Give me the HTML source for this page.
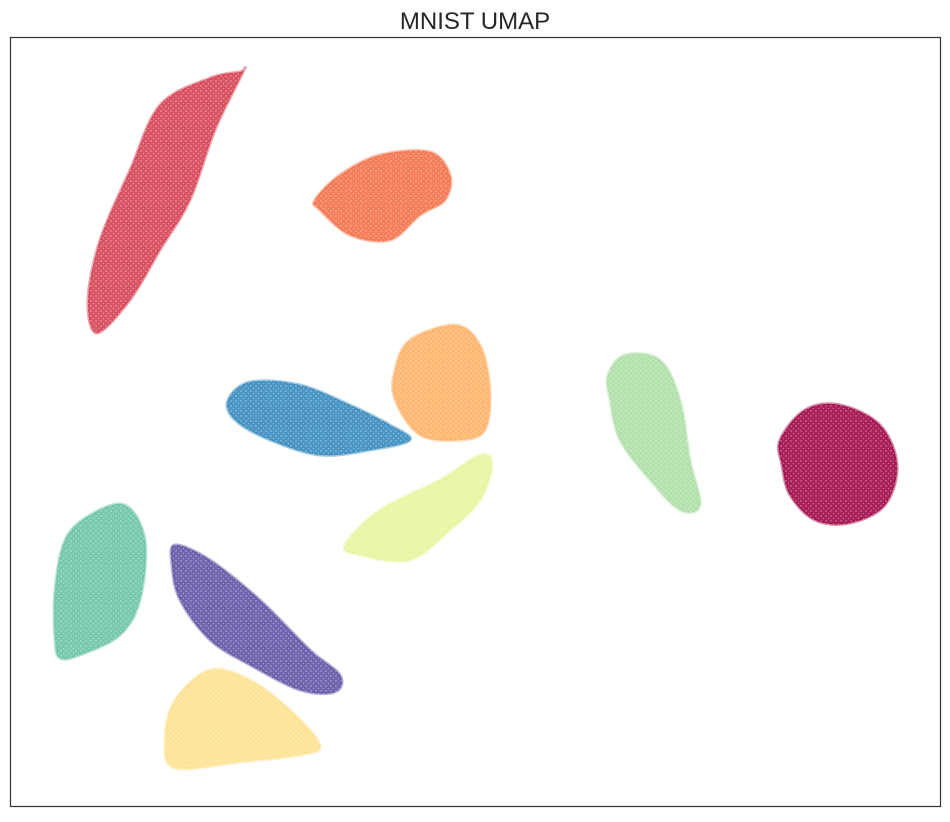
<!DOCTYPE html>
<html>
<head>
<meta charset="utf-8">
<style>
  html,body{margin:0;padding:0;background:#fff;}
  body{width:950px;height:817px;overflow:hidden;font-family:"Liberation Sans","DejaVu Sans",sans-serif;}
</style>
</head>
<body>
<svg id="chart" width="950" height="817" viewBox="0 0 950 817" xmlns="http://www.w3.org/2000/svg">
  <defs>
    <pattern id="speckle" width="5" height="5" patternUnits="userSpaceOnUse">
      <circle cx="1" cy="1" r="0.7" fill="#fff" opacity="0.5"/>
      <circle cx="3.5" cy="3.5" r="0.6" fill="#fff" opacity="0.4"/>
    </pattern>
  </defs>
  <text x="475" y="29" text-anchor="middle" font-size="24" fill="#262626" font-family="Liberation Sans, DejaVu Sans, sans-serif">MNIST UMAP</text>
  <g id="clusters"></g>
  <rect x="10.5" y="37.5" width="930" height="769" fill="none" stroke="#333" stroke-width="1.2"/>
</svg>
<script>
// Data coordinates: x in [0, 931], y in [0, 770] (y measured downward from the top of the embedding view)
const digitLabels = ['0','1','2','3','4','5','6','7','8','9'];
const clusterColors = ['#d53e4f','#f46d43','#fdae61','#3288bd','#e6f598','#abdda4','#9e0142','#66c2a5','#5e4fa2','#fee08b'];
const outline0 = [[230,35],[200,41],[150,68],[120,133],[90,203],[78,263],[87,296],[120,263],[150,213],[180,163],[205,93],[233,35]];
const outline1 = [[305,163],[330,138],[370,118],[420,115],[440,138],[435,163],[410,178],[380,203],[340,198],[310,173]];
const outline2 = [[385,333],[400,303],[445,288],[470,308],[480,353],[475,393],[450,403],[410,398],[385,363]];
const outline3 = [[218,363],[240,345],[290,348],[340,368],[380,388],[400,403],[360,413],[310,418],[260,403],[225,383]];
const outline4 = [[335,508],[370,473],[430,443],[470,418],[482,428],[470,463],[440,493],[400,523],[350,518]];
const outline5 = [[598,338],[615,318],[650,323],[670,363],[680,423],[690,468],[670,473],[640,443],[610,403],[600,363]];
const outline6 = [[770,403],[795,373],[830,368],[870,388],[887,428],[875,468],[840,486],[805,483],[780,458],[772,428]];
const outline7 = [[45,603],[45,553],[55,503],[80,478],[115,468],[135,503],[130,563],[110,598],[70,618],[50,621]];
const outline8 = [[165,508],[200,523],[250,563],[300,613],[330,638],[325,655],[290,653],[240,628],[200,603],[170,563],[162,528]];
const outline9 = [[155,703],[165,663],[200,633],[240,643],[280,673],[310,708],[290,718],[230,725],[165,731]];
const outlines = [outline0,outline1,outline2,outline3,outline4,outline5,outline6,outline7,outline8,outline9];

const plot = {x0:10, y0:37, w:931, h:770};
const xDomain = [0, 931], yDomain = [0, 770];
function sx(v){ return plot.x0 + (v - xDomain[0]) / (xDomain[1]-xDomain[0]) * plot.w; }
function sy(v){ return plot.y0 + (v - yDomain[0]) / (yDomain[1]-yDomain[0]) * plot.h; }

// closed Catmull-Rom smoothing
function smoothPath(pts){
  const P = pts.map(p=>[sx(p[0]), sy(p[1])]);
  const n = P.length;
  let d = 'M' + P[0][0].toFixed(1) + ',' + P[0][1].toFixed(1);
  for(let i=0;i<n;i++){
    const p0=P[(i-1+n)%n], p1=P[i], p2=P[(i+1)%n], p3=P[(i+2)%n];
    const c1=[p1[0]+(p2[0]-p0[0])/6, p1[1]+(p2[1]-p0[1])/6];
    const c2=[p2[0]-(p3[0]-p1[0])/6, p2[1]-(p3[1]-p1[1])/6];
    d += ' C' + c1.map(v=>v.toFixed(1)).join(',') + ' ' + c2.map(v=>v.toFixed(1)).join(',') + ' ' + p2.map(v=>v.toFixed(1)).join(',');
  }
  return d + ' Z';
}

const NS = 'http://www.w3.org/2000/svg';
const g = document.getElementById('clusters');
outlines.forEach((pts, i) => {
  const d = smoothPath(pts);
  const path = document.createElementNS(NS,'path');
  path.setAttribute('d', d);
  path.setAttribute('fill', clusterColors[i]);
  path.setAttribute('fill-opacity', '0.88');
  path.setAttribute('stroke', clusterColors[i]);
  path.setAttribute('stroke-opacity', '0.45');
  path.setAttribute('stroke-width', '3');
  path.setAttribute('stroke-linejoin', 'round');
  
  
  g.appendChild(path);
  const tex = document.createElementNS(NS,'path');
  tex.setAttribute('d', d);
  tex.setAttribute('fill', 'url(#speckle)');
  
  
  g.appendChild(tex);
});
</script>
</body>
</html>
